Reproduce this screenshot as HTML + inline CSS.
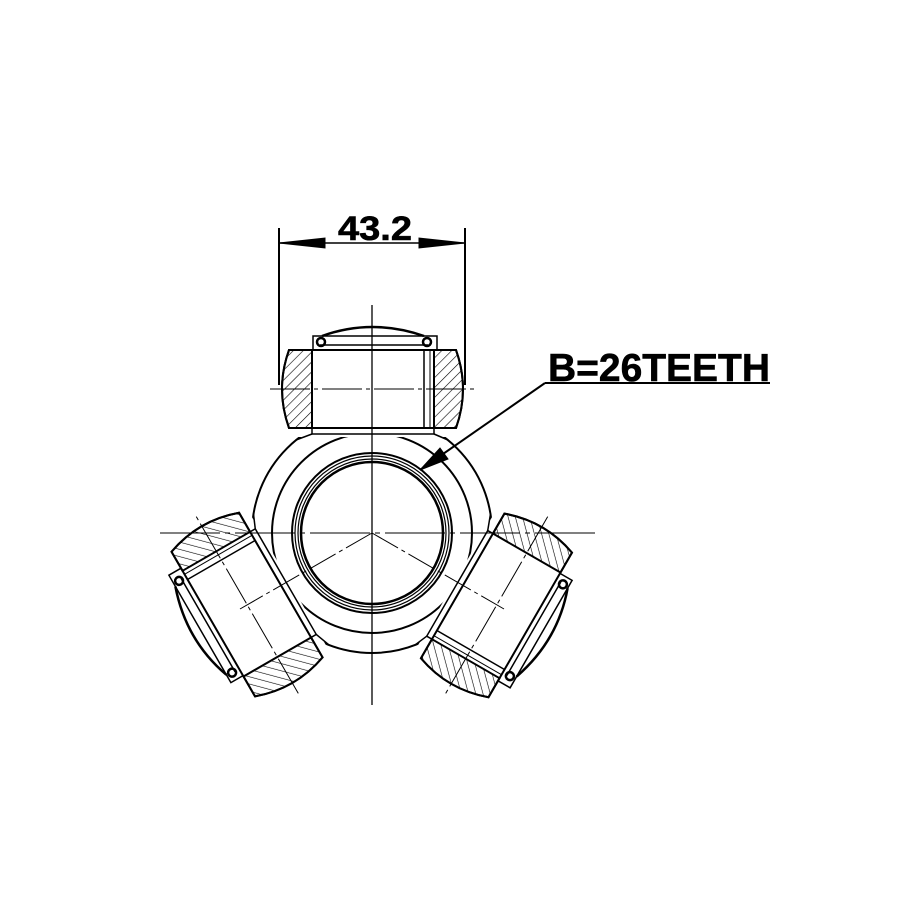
<!DOCTYPE html>
<html><head><meta charset="utf-8"><style>
html,body{margin:0;padding:0;background:#fff}
svg{display:block}
text{font-family:"Liberation Sans",Arial,sans-serif;font-weight:bold;fill:#000}
</style></head><body>
<svg width="915" height="915" viewBox="0 0 915 915" xmlns="http://www.w3.org/2000/svg">
<defs>
<pattern id="h" width="7" height="7" patternUnits="userSpaceOnUse" patternTransform="rotate(45)">
<line x1="0" y1="0" x2="0" y2="7" stroke="#000" stroke-width="1.2"/>
</pattern>
<g id="arm" stroke="#000" stroke-width="2" fill="none">
<rect x="283" y="324" width="180" height="113" fill="#fff" stroke="none"/>
<path d="M289,350 L456,350 Q470,389 456,428 L289,428 Q275,389 289,350 Z" fill="#fff"/>
<path d="M289,350 L312,350 L312,428 L289,428 Q275,389 289,350 Z" fill="url(#h)"/>
<path d="M434,350 L456,350 Q470,389 456,428 L434,428 Z" fill="url(#h)"/>
<line x1="424" y1="350" x2="424" y2="428" stroke-width="1.5"/>
<line x1="430" y1="350" x2="430" y2="428" stroke-width="1"/>
<rect x="312" y="428" width="122" height="6" stroke-width="1.5"/>
<path d="M313,350 L313,336 L437,336 L437,350" stroke-width="1.5"/>
<line x1="320" y1="345" x2="428" y2="345" stroke-width="1.5"/>
<path d="M322,336 Q372,318 424,336" stroke-width="2.5"/>
<circle cx="321" cy="342" r="4" stroke-width="2.5"/>
<circle cx="427" cy="342" r="4" stroke-width="2.5"/>
<line x1="312" y1="434" x2="296" y2="440" stroke-width="1.5"/>
<line x1="434" y1="434" x2="448" y2="440" stroke-width="1.5"/>
<line x1="270" y1="389" x2="478" y2="389" stroke-width="1" stroke-dasharray="40,4,4,4"/>
</g>
</defs>
<g stroke="#000" fill="none">
<circle cx="372" cy="533" r="120" stroke-width="2"/>
<circle cx="372" cy="533" r="100" stroke-width="2"/>
<circle cx="372" cy="533" r="80" stroke-width="2"/>
<circle cx="372" cy="533" r="77" stroke-width="1.2"/>
<circle cx="372" cy="533" r="74" stroke-width="1.2"/>
<circle cx="372" cy="533" r="71" stroke-width="2.5"/>
</g>
<use href="#arm"/>
<use href="#arm" transform="rotate(-120 372 533)"/>
<use href="#arm" transform="rotate(120 372 533)"/>
<g stroke="#000" fill="none" stroke-width="1">
<line x1="160" y1="533" x2="600" y2="533" stroke-dasharray="60,5,5,5"/>
<line x1="372" y1="305" x2="372" y2="705" stroke-width="1.3"/>
<line x1="372" y1="533" x2="240" y2="609" stroke-dasharray="30,4,4,4"/>
<line x1="372" y1="533" x2="504" y2="609" stroke-dasharray="30,4,4,4"/>
<line x1="279" y1="228" x2="279" y2="385" stroke-width="2"/>
<line x1="465" y1="228" x2="465" y2="385" stroke-width="2"/>
<line x1="279" y1="243" x2="465" y2="243" stroke-width="1.5"/>
<path d="M279,243 L325,238 L325,248 Z M465,243 L419,238 L419,248 Z" fill="#000"/>
<line x1="545" y1="383" x2="770" y2="383" stroke-width="2"/>
<line x1="545" y1="383" x2="420" y2="470" stroke-width="2"/>
<path d="M420,470 L440,448 L448,459 Z" fill="#000"/>
</g>
<text x="338" y="240" font-size="34" textLength="74" lengthAdjust="spacingAndGlyphs" stroke="#000" stroke-width="0.6">43.2</text>
<text x="548" y="381" font-size="39" textLength="222" lengthAdjust="spacingAndGlyphs" stroke="#000" stroke-width="0.6">B=26TEETH</text>
</svg>
</body></html>
